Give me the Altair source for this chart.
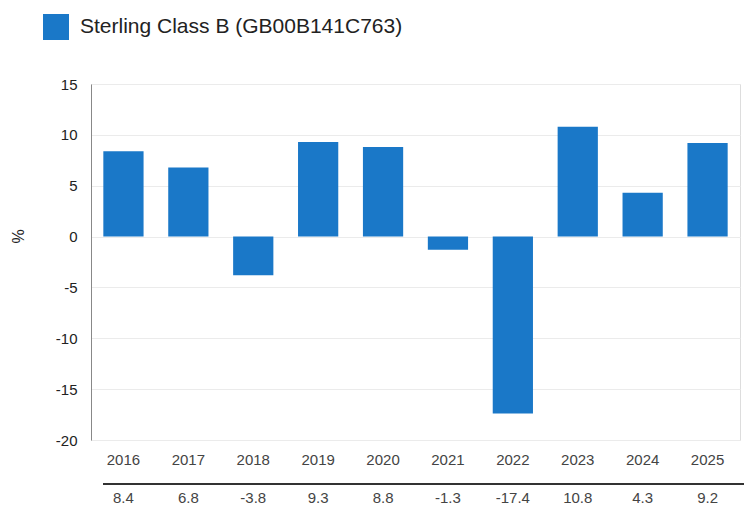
import altair as alt
import pandas as pd

years = ["2016", "2017", "2018", "2019", "2020", "2021", "2022", "2023", "2024", "2025"]
returns = [8.4, 6.8, -3.8, 9.3, 8.8, -1.3, -17.4, 10.8, 4.3, 9.2]
series_name = "Sterling Class B (GB00B141C763)"

df = pd.DataFrame({"year": years, "ret": returns, "series": series_name})
df["label"] = [f"{v:.1f}" for v in returns]

FONT = "Liberation Sans"
BLUE = "#1a78c8"
W, H = 649, 356

xenc = alt.X("year:N", sort=years, title=None,
             scale=alt.Scale(paddingInner=0.38, paddingOuter=0.19),
             axis=alt.Axis(labelAngle=0, domain=False, ticks=False, labelPadding=12,
                           labelFontSize=15, labelColor="#444444", labelFont=FONT, grid=False))

bars = alt.Chart(df).mark_bar(color=BLUE).encode(
    x=xenc,
    y=alt.Y("ret:Q", title="%",
            scale=alt.Scale(domain=[-20, 15], nice=False, zero=False),
            axis=alt.Axis(values=[-20, -15, -10, -5, 0, 5, 10, 15], grid=True, gridColor="#ebebeb",
                          labelExpr="toString(datum.value)",
                          domain=True, domainColor="#888888", ticks=False, labelPadding=14,
                          labelFontSize=15, labelColor="#222222", labelFont=FONT,
                          titleFont=FONT, titleFontSize=16, titleFontWeight="normal",
                          titleColor="#222222", titlePadding=29, titleY=152)),
    color=alt.Color("series:N", scale=alt.Scale(range=[BLUE]),
                    legend=alt.Legend(title=None, orient="none", legendX=-48, legendY=-70,
                                      symbolType="square", symbolSize=676, symbolStrokeWidth=0,
                                      labelFontSize=21, labelFont=FONT, labelColor="#222222",
                                      labelLimit=0, labelOffset=11, padding=0)),
)

values_row = alt.Chart(df).mark_text(font=FONT, fontSize=15, color="#444444", baseline="middle").encode(
    x=alt.X("year:N", sort=years),
    y=alt.value(414),
    text="label:N",
)

sep = alt.Chart(df).mark_rule(color="#333333", strokeWidth=1).encode(
    x=alt.value(12), x2=alt.value(665), y=alt.value(400)
)

chart = alt.layer(bars, values_row, sep).properties(
    width=W, height=H,
    autosize=alt.AutoSizeParams(type="none"),
    padding={"left": 83, "top": 76, "right": 4, "bottom": 68},
).configure_view(strokeWidth=0).configure(font=FONT)

chart.save("out.html", embed_options={"renderer": "svg", "actions": False})
